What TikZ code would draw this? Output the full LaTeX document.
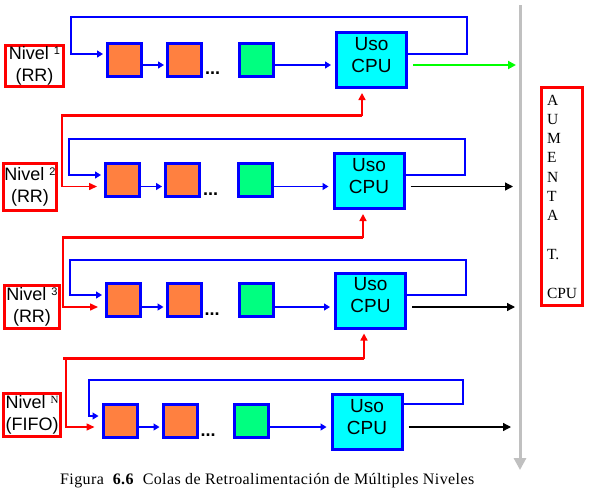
\documentclass[tikz,border=0pt]{standalone}
\usepackage{fontspec}
\setmainfont{Liberation Serif}
\newfontfamily\arialf{Liberation Sans}
\newfontfamily\capf[LetterSpace=2.5]{Liberation Serif}
\usetikzlibrary{arrows.meta}
\definecolor{qorange}{HTML}{FF8040}
\definecolor{qgreen}{HTML}{00FF80}
\definecolor{qlime}{HTML}{00FF00}
\definecolor{qcyan}{HTML}{00FFFF}
\definecolor{qblue}{HTML}{0000FF}
\definecolor{qred}{HTML}{FF0000}
\definecolor{qgray}{HTML}{C0C0C0}
\newcommand\lvsup[1]{\raisebox{0.3em}[0pt][0pt]{\fontsize{11}{11}\selectfont #1}}
\begin{document}
\begin{tikzpicture}[x=1pt,y=-1pt,
  lvl/.style={draw=qred, line width=3pt, fill=white, inner sep=0pt, align=center,
    font=\arialf\fontsize{18}{21.5}\selectfont},
  qbox/.style={draw=qblue, line width=3pt, minimum width=34pt, minimum height=33pt, inner sep=0pt},
  proc/.style={qbox, fill=qorange},
  lastp/.style={qbox, fill=qgreen},
  cpu/.style={draw=qblue, line width=3pt, fill=qcyan, minimum width=70pt, minimum height=55pt,
    inner sep=0pt, align=center, font=\arialf\fontsize{19}{22}\selectfont, text depth=11pt},
  dots/.style={anchor=base west, inner sep=0pt, font=\arialf\bfseries\fontsize{18}{18}\selectfont, xshift=2pt, yshift=3pt},
  bl/.style={draw=qblue, line width=1.3pt},
  blarrow/.style={bl, -{Triangle[length=6pt,width=7pt]}, shorten >=2pt},
  looparrow/.style={bl, -{Triangle[length=6pt,width=7pt]}, shorten >=3pt},
  looptop/.style={draw=qblue, line width=2.3pt},
  redfb/.style={draw=qred, line width=1.5pt, {Triangle[length=7pt,width=7pt]}-{Triangle[length=8pt,width=7pt]}, shorten <=4pt, shorten >=7pt},
  redtop/.style={draw=qred, line width=3pt},
  outarr/.style={line width=1.3pt, -{Triangle[length=8pt,width=8pt]}, shorten <=5pt},
  aum/.style={draw=qred, line width=2.7pt, minimum width=41pt, minimum height=218pt, inner sep=0pt,
    text width=30pt, align=left, font=\fontsize{15.5}{19.3}\selectfont}
]
\useasboundingbox[fill=white] (0,0) rectangle (594,499);

% ---------- gray arrow ----------
\coordinate (gt) at (520,5);
\coordinate (gb) at (520,470);
\draw[qgray, line width=3pt, -{Triangle[length=12pt,width=12pt]}] (gt) -- (gb);

% ---------- row 1 ----------
\node[lvl, minimum width=58pt, minimum height=41pt] (lv1) at (34.5,66) {Nivel\ \lvsup{1}\\(RR)};
\node[proc] (b11) at (124.5,59.5) {};
\node[proc] (b12) at (184.5,59.5) {};
\node[dots] (d1) at (b12.south east) {...};
\node[lastp] (g1) at (256.5,59.5) {};
\node[cpu] (c1) at (371.5,60) {Uso\\CPU};
\coordinate (m1) at (0,65);
\coordinate (lp1l) at (71,17);
\coordinate (lp1r) at (467,54);
\coordinate (o1) at (516,65);
\draw[looparrow] (c1.east |- lp1r) -- (lp1r) -- (lp1r |- lp1l) -- (lp1l) -- (lp1l |- lp1r) -- (b11.west |- lp1r);
\draw[looptop] (lp1r |- lp1l) -- (lp1l);
\draw[blarrow] (b11.east |- m1) -- (b12.west |- m1);
\draw[blarrow, shorten >=4pt] (g1.east |- m1) -- (c1.west |- m1);
\draw[outarr, qlime, line width=2pt] (c1.east |- m1) -- (o1);

% ---------- row 2 ----------
\node[lvl, minimum width=53pt, minimum height=47pt] (lv2) at (30,187) {Nivel\ \lvsup{2}\\(RR)};
\node[proc] (b21) at (122.5,180) {};
\node[proc] (b22) at (182.5,180) {};
\node[dots] (d2) at (b22.south east) {...};
\node[lastp] (g2) at (255,180) {};
\node[cpu] (c2) at (369,181) {Uso\\CPU};
\coordinate (m2) at (0,186.5);
\coordinate (lp2l) at (69,139);
\coordinate (lp2r) at (465,175);
\coordinate (o2) at (513,186.5);
\draw[looparrow] (c2.east |- lp2r) -- (lp2r) -- (lp2r |- lp2l) -- (lp2l) -- (lp2l |- lp2r) -- (b21.west |- lp2r);
\draw[looptop] (lp2r |- lp2l) -- (lp2l);
\draw[blarrow] (b21.east |- m2) -- (b22.west |- m2);
\draw[blarrow, shorten >=4pt] (g2.east |- m2) -- (c2.west |- m2);
\draw[outarr, black] (c2.east |- m2) -- (o2);

% ---------- row 3 ----------
\node[lvl, minimum width=55pt, minimum height=43pt] (lv3) at (32,307) {Nivel\ \lvsup{3}\\(RR)};
\node[proc] (b31) at (123.5,300) {};
\node[proc] (b32) at (184,300) {};
\node[dots] (d3) at (b32.south east) {...};
\node[lastp] (g3) at (256,300) {};
\node[cpu] (c3) at (370.5,300.5) {Uso\\CPU};
\coordinate (m3) at (0,307);
\coordinate (lp3l) at (70,260);
\coordinate (lp3r) at (466,295);
\coordinate (o3) at (515,307);
\draw[looparrow] (c3.east |- lp3r) -- (lp3r) -- (lp3r |- lp3l) -- (lp3l) -- (lp3l |- lp3r) -- (b31.west |- lp3r);
\draw[looptop] (lp3r |- lp3l) -- (lp3l);
\draw[blarrow] (b31.east |- m3) -- (b32.west |- m3);
\draw[blarrow, shorten >=4pt] (g3.east |- m3) -- (c3.west |- m3);
\draw[outarr, black] (c3.east |- m3) -- (o3);

% ---------- row 4 ----------
\node[lvl, minimum width=57pt, minimum height=43pt] (lv4) at (32,415) {Nivel\ \lvsup{\rmfamily N}\\(FIFO)};
\node[proc] (b41) at (120,421) {};
\node[proc] (b42) at (180,421) {};
\node[dots] (d4) at (b42.south east) {...};
\node[lastp] (g4) at (251.5,421) {};
\node[cpu] (c4) at (367,422) {Uso\\CPU};
\coordinate (m4) at (0,427);
\coordinate (lp4l) at (89,380);
\coordinate (lp4r) at (463,404);
\coordinate (lp4e) at (0,416);
\coordinate (o4) at (511,427);
\draw[looparrow] (c4.east |- lp4r) -- (lp4r) -- (lp4r |- lp4l) -- (lp4l) -- (lp4l |- lp4e) -- (b41.west |- lp4e);
\draw[looptop] (lp4r |- lp4l) -- (lp4l);
\draw[blarrow] (b41.east |- m4) -- (b42.west |- m4);
\draw[blarrow, shorten >=4pt] (g4.east |- m4) -- (c4.west |- m4);
\draw[outarr, black] (c4.east |- m4) -- (o4);

% ---------- red feedback ----------
\coordinate (fb1r) at (362,115);
\coordinate (fb1l) at (62,115);
\draw[redfb] (c1.south -| fb1r) -- (fb1r) -- (fb1l) -- (fb1l |- m2) -- (b21.west |- m2);
\draw[redtop] (fb1r) -- (fb1l);
\coordinate (fb2r) at (363,237);
\coordinate (fb2l) at (63,237);
\draw[redfb] (c2.south -| fb2r) -- (fb2r) -- (fb2l) -- (fb2l |- m3) -- (b31.west |- m3);
\draw[redtop] (fb2r) -- (fb2l);
\coordinate (fb3r) at (364,358);
\coordinate (fb3l) at (66,358);
\coordinate (fb3s) at (63,358);
\draw[redfb] (c3.south -| fb3r) -- (fb3r) -- (fb3l) -- (fb3l |- m4) -- (b41.west |- m4);
\draw[redtop] (fb3r) -- (fb3s);

% ---------- side label ----------
\node[aum] (au) at (562,196.5) {A\\U\\M\\E\\N\\T\\A\\[19.3pt]T.\\[19.3pt]CPU};

% ---------- caption ----------
\node[anchor=base west, inner sep=0pt, font=\capf\fontsize{16}{16}\selectfont] (cap) at (60,484)
  {Figura\ \ \textbf{6.6}\ \ Colas de Retroalimentación de Múltiples Niveles};
\end{tikzpicture}
\end{document}
